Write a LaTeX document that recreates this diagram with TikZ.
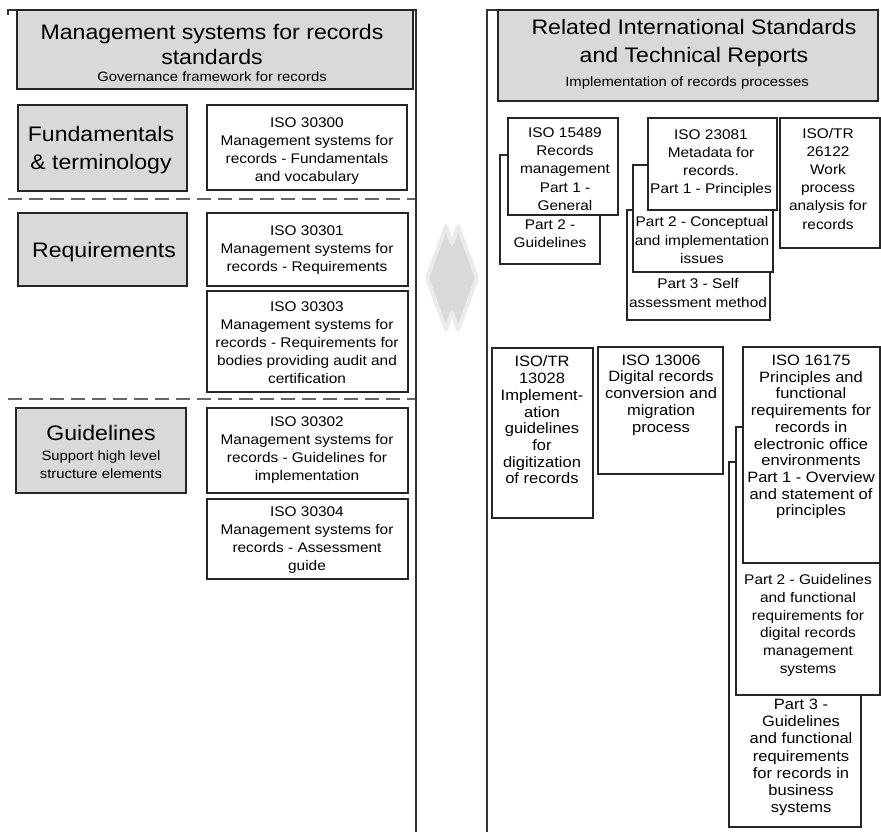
\documentclass[tikz,border=0pt]{standalone}
\usepackage{fontspec}
\setmainfont{Liberation Sans}[FakeStretch=1.1]
\usetikzlibrary{fit}
\tikzset{
  box/.style={draw=black!85, line width=1.5pt, fill=white, inner sep=0pt},
  gbox/.style={box, fill=gray!30},
  panel/.style={draw=black!80, line width=1.3pt},
  sep/.style={draw=black!60, line width=1.2pt, dash pattern=on 14pt off 7pt},
  big/.style={align=center, inner sep=0pt, font=\fontsize{21}{25}\selectfont},
  sub/.style={align=center, inner sep=0pt, font=\fontsize{13.5}{18}\selectfont},
  txt/.style={align=center, inner sep=0pt, font=\fontsize{14}{18}\selectfont},
  txtr/.style={align=center, inner sep=0pt, font=\fontsize{14}{18.2}\selectfont},
  txtl/.style={align=center, inner sep=0pt, font=\fontsize{15}{16.7}\selectfont},
}
\begin{document}
\begin{tikzpicture}[x=1pt,y=-1pt]
\useasboundingbox (0,0) rectangle (881,832);
\fill[white] (0,0) rectangle (881,832);

% panel frames
\draw[panel] (8,15) -- (8,10) -- (416,10) -- (416,832);
\draw[panel] (487,832) -- (487,10) -- (498,10);
\draw[sep] (8,199) -- (415,199);
\draw[sep] (8,399) -- (415,399);

% double arrow between panels
\path[fill=gray!30, draw=gray!16, line width=4pt, rounded corners=2pt]
  (427,278) -- (446,226) -- (452,244) -- (458,226) -- (477,278)
  -- (458,330) -- (452,312) -- (446,330) -- cycle;

% left boxes
\node[gbox, fit={(17,10) (413,89)}] (hdrL) {};
\node[gbox, fit={(18,105) (187,191)}] (fund) {};
\node[box, fit={(207,105) (407,190)}] (i30300) {};
\node[gbox, fit={(18,213) (187,286)}] (req) {};
\node[box, fit={(207,213) (408,286)}] (i30301) {};
\node[box, fit={(207,291) (408,392)}] (i30303) {};
\node[gbox, fit={(16,408) (186,493)}] (guid) {};
\node[box, fit={(207,408) (408,493)}] (i30302) {};
\node[box, fit={(207,499) (408,579)}] (i30304) {};

% right boxes (back to front)
\node[gbox, fit={(498,10) (878,101)}] (hdrR) {};
\node[box, fit={(500,155) (600,264)}] (p15489b) {};
\node[box, fit={(508,118) (618,215)}] (i15489) {};
\node[box, fit={(627,210) (770,320)}] (p23081c) {};
\node[box, fit={(633,165) (773,272)}] (p23081b) {};
\node[box, fit={(648,118) (777,210)}] (i23081) {};
\node[box, fit={(780,118) (880,248)}] (i26122) {};
\node[box, fit={(492,348) (593,518)}] (i13028) {};
\node[box, fit={(598,347) (723,474)}] (i13006) {};
\node[box, fit={(729,462) (861,827)}] (p16175c) {};
\node[box, fit={(736,427) (880,695)}] (p16175b) {};
\node[box, fit={(743,347) (880,563)}] (i16175) {};

% left texts
\node[big] (tL) at (212,44.5) {Management systems for records\\standards};
\node[sub] (sL) at (212,77) {Governance framework for records};
\node[big, font=\fontsize{21}{28}\selectfont] (tfund) at (101,150) {Fundamentals\\\& terminology};
\node[txt] (t30300) at (307,151) {ISO 30300\\Management systems for\\records - Fundamentals\\and vocabulary};
\node[big] (treq) at (104,252) {Requirements};
\node[txt] (t30301) at (307,250) {ISO 30301\\Management systems for\\records - Requirements};
\node[txt] (t30303) at (307,343) {ISO 30303\\Management systems for\\records - Requirements for\\bodies providing audit and\\certification};
\node[big] (tguid) at (101,433) {Guidelines};
\node[sub] (sguid) at (101,465) {Support high level\\structure elements};
\node[txt] (t30302) at (307,450.5) {ISO 30302\\Management systems for\\records - Guidelines for\\implementation};
\node[txt] (t30304) at (307,540.5) {ISO 30304\\Management systems for\\records - Assessment\\guide};

% right texts
\node[big, font=\fontsize{21}{28}\selectfont] (tR) at (694,43.5) {Related International Standards\\and Technical Reports};
\node[sub] (sR) at (687,83) {Implementation of records processes};
\node[txtr] (t15489) at (565,169) {ISO 15489\\Records\\management\\Part 1 -\\General};
\node[txtr] (t15489b) at (550,233.5) {Part 2 -\\Guidelines};
\node[txtr] (t23081) at (711,163) {ISO 23081\\Metadata for\\records.\\Part 1 - Principles};
\node[txtr] (t23081b) at (702,240) {Part 2 - Conceptual\\and implementation\\issues};
\node[txtr] (t23081c) at (698,293) {Part 3 - Self\\assessment method};
\node[txtr] (t26122) at (828,178.5) {ISO/TR\\26122\\Work\\process\\analysis for\\records};
\node[txtl] (t13028) at (542,420) {ISO/TR\\13028\\Implement-\\ation\\guidelines\\for\\digitization\\of records};
\node[txtl] (t13006) at (661,395) {ISO 13006\\Digital records\\conversion and\\migration\\process};
\node[txtl] (t16175) at (811,437) {ISO 16175\\Principles and\\functional\\requirements for\\records in\\electronic office\\environments\\Part 1 - Overview\\and statement of\\principles};
\node[txt, font=\fontsize{14}{17.7}\selectfont] (t16175b) at (808,625.5) {Part 2 - Guidelines\\and functional\\requirements for\\digital records\\management\\systems};
\node[txtl, font=\fontsize{15}{17.2}\selectfont] (t16175c) at (801,757.5) {Part 3 -\\Guidelines\\and functional\\requirements\\for records in\\business\\systems};
\end{tikzpicture}
\end{document}
